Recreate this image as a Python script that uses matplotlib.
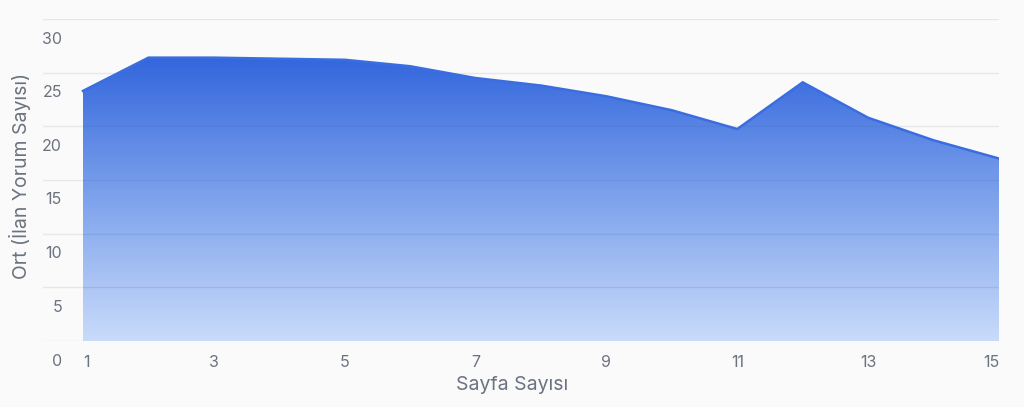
import numpy as np
import matplotlib
matplotlib.use("Agg")
import matplotlib.pyplot as plt
from matplotlib import transforms
from matplotlib.colors import LinearSegmentedColormap

plt.rcParams['font.family'] = ['Inter', 'DejaVu Sans']

# data
pages = [1, 2, 3, 4, 5, 6, 7, 8, 9, 10, 11, 12, 13, 14, 15]
avg_comments = [23.3, 26.4, 26.4, 26.3, 26.2, 25.6, 24.5, 23.8, 22.8, 21.5,
                19.75, 24.1, 20.8, 18.7, 17.0]
y_ticks = [0, 5, 10, 15, 20, 25, 30]
x_ticks = [1, 3, 5, 7, 9, 11, 13, 15]

text_col = '#6b7280'
grid_col = '#e6e7ea'
bg = '#fafafa'

fig = plt.figure(figsize=(10.24, 4.07), dpi=100, facecolor=bg)
ax = fig.add_axes([43 / 1024, 66 / 407, 956 / 1024, 322 / 407])
ax.set_facecolor(bg)

x = np.array(pages, dtype=float)
y = np.array(avg_comments, dtype=float)

ax.set_xlim(1 - 40 / 65.43, 15)
ax.set_ylim(0, 30)

for v in y_ticks:
    ax.axhline(v, color=grid_col, lw=1, zorder=0)

# gradient fill under the line
poly = ax.fill_between(x, y, 0, color='none', lw=0)
path = poly.get_paths()[0]
cmap = LinearSegmentedColormap.from_list('g', ['#c9dbfa', '#7ea3ec', '#3366dd'])
grad = np.linspace(0, 1, 256).reshape(-1, 1)
img = ax.imshow(grad, cmap=cmap, aspect='auto', origin='lower',
                extent=[x.min(), x.max(), 0, y.max()], zorder=1)
img.set_clip_path(path, transform=ax.transData)
ax.plot(x, y, color='#3a6ee0', lw=1.8, zorder=2, solid_joinstyle='miter')

# faint grid seen through the fill
for v in y_ticks[1:-1]:
    gl = ax.axhline(v, color='#4466aa', lw=1, alpha=0.15, zorder=1.5)
    gl.set_clip_path(path, transform=ax.transData)

for s in ax.spines.values():
    s.set_visible(False)

ax.set_yticks([])
ytrans = transforms.offset_copy(ax.get_yaxis_transform(), fig=fig, x=0, y=-20, units='dots')
for v in y_ticks:
    ax.text(19 / 956, v, str(v), transform=ytrans, ha='right', va='center',
            fontsize=11.5, color=text_col)

ax.set_xticks(x_ticks)
ax.set_xticklabels([str(t) for t in x_ticks])
ax.tick_params(axis='x', length=0, pad=10, labelsize=11.5, labelcolor=text_col)
labels = ax.get_xticklabels()
labels[0].set_ha('left')
labels[-1].set_ha('right')

fig.text(0.5, 22 / 407, 'Sayfa Sayısı', ha='center', va='center',
         fontsize=14, color=text_col)
fig.text(20 / 1024, 231 / 407, 'Ort (İlan Yorum Sayısı)', ha='center', va='center',
         rotation=90, fontsize=14, color=text_col)

fig.savefig('out.png', dpi=100, facecolor=bg)
